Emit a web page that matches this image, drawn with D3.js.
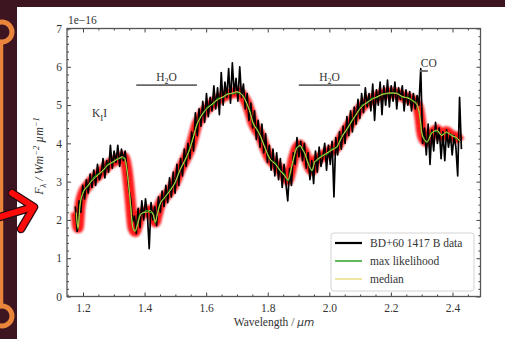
<!DOCTYPE html>
<html>
<head>
<meta charset="utf-8">
<script src="https://cdn.jsdelivr.net/npm/d3@7"></script>
<style>
  html, body { margin: 0; padding: 0; background: #3c1521; }
  svg { display: block; }
  text { font-family: "Liberation Serif", "DejaVu Serif", serif; fill: #333; }
</style>
</head>
<body>
<svg id="chart" width="505" height="339"></svg>
<script>
// observed spectrum [wavelength um, flux 1e-16]
const spectrum = [
  [1.175, 2.35], [1.181, 1.7], [1.187, 2.5], [1.193, 2.2], [1.199, 2.9], [1.205, 2.55], [1.211, 3.05], [1.217, 2.7], [1.223, 3.2], [1.229, 2.85],
  [1.235, 3.3], [1.241, 2.9], [1.247, 3.45], [1.253, 3.05], [1.259, 3.2], [1.265, 3.6], [1.271, 3.1], [1.277, 3.55], [1.283, 3.25], [1.289, 3.95],
  [1.295, 3.35], [1.301, 3.8], [1.307, 3.5], [1.313, 3.95], [1.319, 3.4], [1.325, 3.85], [1.331, 3.55], [1.337, 3.8], [1.343, 3.3], [1.349, 2.8],
  [1.355, 2.55], [1.361, 1.95], [1.367, 2.1], [1.373, 1.65], [1.379, 2.3], [1.385, 1.8], [1.391, 2.5], [1.397, 2.0], [1.403, 2.55], [1.409, 2.15],
  [1.415, 1.25], [1.421, 2.45], [1.427, 2.0], [1.433, 2.35], [1.439, 1.85], [1.445, 2.6], [1.451, 2.2], [1.457, 2.75], [1.463, 2.35], [1.469, 2.9],
  [1.475, 2.45], [1.481, 3.1], [1.487, 2.6], [1.493, 3.25], [1.499, 2.7], [1.505, 3.45], [1.511, 2.9], [1.517, 3.6], [1.523, 3.15], [1.529, 3.85],
  [1.535, 3.4], [1.541, 4.0], [1.547, 3.6], [1.553, 4.3], [1.559, 3.8], [1.565, 4.8], [1.571, 4.2], [1.577, 4.9], [1.583, 4.45], [1.589, 5.1],
  [1.595, 4.55], [1.601, 5.3], [1.607, 4.7], [1.613, 5.2], [1.619, 4.85], [1.625, 5.5], [1.631, 4.9], [1.637, 5.45], [1.643, 4.75], [1.649, 5.85],
  [1.655, 5.0], [1.661, 5.6], [1.667, 5.2], [1.673, 5.95], [1.679, 5.05], [1.685, 6.1], [1.691, 5.3], [1.697, 5.7], [1.703, 5.1], [1.709, 6.0],
  [1.715, 5.2], [1.721, 5.55], [1.727, 4.9], [1.733, 5.3], [1.739, 4.6], [1.745, 5.05], [1.751, 4.4], [1.757, 4.85], [1.763, 4.1], [1.769, 4.6],
  [1.775, 3.9], [1.781, 4.5], [1.787, 3.75], [1.793, 4.25], [1.799, 3.5], [1.805, 3.95], [1.811, 3.3], [1.817, 3.85], [1.823, 3.15], [1.829, 3.75],
  [1.835, 3.05], [1.841, 3.6], [1.847, 2.85], [1.853, 3.45], [1.859, 2.95], [1.865, 2.5], [1.871, 3.35], [1.877, 2.9], [1.883, 3.75], [1.889, 3.45],
  [1.895, 4.15], [1.901, 3.65], [1.907, 4.05], [1.913, 3.55], [1.919, 4.0], [1.925, 3.35], [1.931, 3.75], [1.937, 3.05], [1.943, 3.55], [1.949, 2.95],
  [1.955, 3.8], [1.961, 3.25], [1.967, 3.9], [1.973, 3.4], [1.979, 3.65], [1.985, 4.0], [1.991, 3.3], [1.997, 3.95], [2.003, 3.45], [2.009, 4.05],
  [2.015, 2.6], [2.021, 4.15], [2.027, 3.7], [2.033, 4.3], [2.039, 3.85], [2.045, 4.45], [2.051, 4.0], [2.057, 4.7], [2.063, 4.2], [2.069, 4.85],
  [2.075, 4.3], [2.081, 4.95], [2.087, 4.5], [2.093, 5.15], [2.099, 4.65], [2.105, 5.3], [2.111, 4.8], [2.117, 5.45], [2.123, 4.95], [2.129, 5.3],
  [2.135, 4.85], [2.141, 5.55], [2.147, 4.6], [2.153, 5.4], [2.159, 5.0], [2.165, 5.6], [2.171, 4.75], [2.177, 5.5], [2.183, 5.0], [2.189, 5.65],
  [2.195, 4.95], [2.201, 5.5], [2.207, 5.1], [2.213, 5.6], [2.219, 4.9], [2.225, 5.45], [2.231, 5.15], [2.237, 5.5], [2.243, 4.85], [2.249, 5.4],
  [2.255, 5.0], [2.261, 5.35], [2.267, 4.85], [2.273, 5.3], [2.279, 4.9], [2.285, 5.25], [2.291, 5.0], [2.297, 5.95], [2.303, 4.0], [2.309, 4.4],
  [2.315, 3.7], [2.321, 4.5], [2.327, 3.45], [2.333, 4.35], [2.339, 3.8], [2.345, 4.55], [2.351, 4.0], [2.357, 4.4], [2.363, 3.6], [2.369, 4.3],
  [2.375, 3.55], [2.381, 4.35], [2.387, 3.9], [2.393, 4.25], [2.399, 3.7], [2.405, 4.2], [2.411, 3.9], [2.417, 3.15], [2.423, 5.2], [2.429, 3.85]
];

// model grid and retrieved fluxes
const modelWave = [1.178, 1.184, 1.19, 1.2, 1.216, 1.232, 1.25, 1.265, 1.28, 1.297, 1.312, 1.327,
  1.335, 1.343, 1.353, 1.362, 1.369, 1.378, 1.385, 1.396, 1.408, 1.418, 1.427, 1.435, 1.44, 1.45,
  1.466, 1.482, 1.5, 1.515, 1.53, 1.547, 1.56, 1.57, 1.58, 1.59, 1.605, 1.622, 1.64, 1.655, 1.67,
  1.687, 1.7, 1.71, 1.722, 1.732, 1.742, 1.752, 1.765, 1.775, 1.79, 1.807, 1.825, 1.84, 1.855,
  1.866, 1.874, 1.882, 1.893, 1.905, 1.912, 1.92, 1.932, 1.944, 1.952, 1.96, 1.975, 1.992, 2.008,
  2.025, 2.04, 2.057, 2.075, 2.09, 2.105, 2.122, 2.14, 2.155, 2.175, 2.197, 2.218, 2.239, 2.255,
  2.271, 2.28, 2.288, 2.294, 2.3, 2.308, 2.317, 2.332, 2.35, 2.365, 2.38, 2.397, 2.414, 2.424];

const medianFlux = [2.2, 1.8, 2.35, 2.7, 2.9, 3.05, 3.18, 3.3, 3.42, 3.52, 3.58, 3.65,
  3.62, 3.3, 2.55, 1.8, 1.7, 1.9, 2.1, 2.2, 2.2, 2.25, 2.15, 1.95, 2.1, 2.4,
  2.6, 2.75, 3.0, 3.3, 3.55, 3.85, 4.2, 4.5, 4.65, 4.8, 4.92, 5.05, 5.15, 5.22, 5.28,
  5.32, 5.35, 5.32, 5.2, 5.05, 4.82, 4.55, 4.35, 4.22, 3.9, 3.6, 3.45, 3.3, 3.15,
  3.05, 3.25, 3.55, 3.85, 3.95, 3.85, 3.75, 3.45, 3.3, 3.5, 3.58, 3.65, 3.75, 3.82,
  3.92, 4.15, 4.38, 4.6, 4.8, 4.95, 5.07, 5.15, 5.22, 5.28, 5.32, 5.3, 5.22, 5.18,
  5.12, 5.05, 4.95, 4.7, 4.3, 4.1, 4.05, 4.25, 4.35, 4.2, 4.3, 4.2, 4.15, 4.05];

const maxLikeFlux = [2.15, 1.75, 2.4, 2.72, 2.88, 3.08, 3.2, 3.28, 3.45, 3.5, 3.6, 3.62,
  3.6, 3.28, 2.5, 1.78, 1.72, 1.95, 2.15, 2.18, 2.25, 2.2, 2.18, 1.92, 2.12, 2.42,
  2.58, 2.78, 2.98, 3.32, 3.52, 3.88, 4.22, 4.48, 4.68, 4.78, 4.95, 5.02, 5.18, 5.2, 5.3,
  5.3, 5.33, 5.3, 5.22, 5.02, 4.85, 4.52, 4.38, 4.2, 3.92, 3.58, 3.48, 3.28, 3.18,
  3.02, 3.28, 3.52, 3.88, 3.92, 3.88, 3.72, 3.48, 3.28, 3.52, 3.55, 3.68, 3.72, 3.85,
  3.9, 4.18, 4.35, 4.62, 4.78, 4.98, 5.05, 5.18, 5.2, 5.3, 5.3, 5.32, 5.2, 5.2,
  5.1, 5.08, 4.92, 4.72, 4.28, 4.12, 4.02, 4.28, 4.32, 4.22, 4.28, 4.22, 4.12, 4.08];

const xTicks = [1.2, 1.4, 1.6, 1.8, 2.0, 2.2, 2.4];
const yTicks = [0, 1, 2, 3, 4, 5, 6, 7];
const seriesNames = ["BD+60 1417 B data", "max likelihood", "median"];
const seriesColors = ["#000000", "#1a9c1a", "#e8dc7a"];

const svg = d3.select("#chart");

// page decoration: white panel, orange rail, red arrow
svg.append("rect").attr("x", 17).attr("y", 7).attr("width", 488).attr("height", 332).attr("fill", "#ffffff");
const orange = "#e9853b";
svg.append("line").attr("x1", 1.5).attr("x2", 1.5).attr("y1", 40).attr("y2", 308)
  .attr("stroke", orange).attr("stroke-width", 3.5);
[32, 316].forEach(cy => {
  svg.append("circle").attr("cx", 2).attr("cy", cy).attr("r", 10)
    .attr("fill", "none").attr("stroke", orange).attr("stroke-width", 5);
});
const arrowPath = "M0,217 L33,207 M12,193 L34,207 L21,229";
svg.append("path").attr("d", arrowPath).attr("fill", "none").attr("stroke", "#2a0a10")
  .attr("stroke-width", 8.5).attr("stroke-linecap", "round").attr("stroke-linejoin", "round");
svg.append("path").attr("d", arrowPath).attr("fill", "none").attr("stroke", "#ff0a0a")
  .attr("stroke-width", 6).attr("stroke-linecap", "round").attr("stroke-linejoin", "round");

const plot = { left: 67, right: 480.5, top: 28.5, bottom: 296.5 };
const x = d3.scaleLinear().domain([1.148, 2.491]).range([plot.left, plot.right]);
const y = d3.scaleLinear().domain([0, 7]).range([plot.bottom, plot.top]);

const defs = svg.append("defs");
defs.append("filter").attr("id", "soft").attr("x", "-5%").attr("y", "-20%").attr("width", "110%").attr("height", "140%")
  .append("feGaussianBlur").attr("stdDeviation", 1.1);
defs.append("clipPath").attr("id", "clip").append("rect")
  .attr("x", plot.left).attr("y", plot.top)
  .attr("width", plot.right - plot.left).attr("height", plot.bottom - plot.top);

const g = svg.append("g").attr("clip-path", "url(#clip)");

const specLine = d3.line().x(d => x(d[0])).y(d => y(d[1]));
const modelLine = vals => d3.line()
  .x((d, i) => x(modelWave[i])).y(d => y(d))
  .curve(d3.curveMonotoneX)(vals);

// posterior spread
g.append("path").attr("d", modelLine(medianFlux))
  .attr("fill", "none").attr("stroke", "#ff1010").attr("stroke-opacity", 0.95)
  .attr("stroke-width", 11).attr("stroke-linejoin", "round").attr("filter", "url(#soft)");

g.append("path").attr("d", specLine(spectrum))
  .attr("fill", "none").attr("stroke", "#000").attr("stroke-width", 1.7).attr("stroke-linejoin", "round");

g.append("path").attr("d", modelLine(maxLikeFlux))
  .attr("fill", "none").attr("stroke", seriesColors[1]).attr("stroke-width", 1.3);
g.append("path").attr("d", modelLine(medianFlux))
  .attr("fill", "none").attr("stroke", "#d8cc50").attr("stroke-width", 1);

// axes, ticks pointing inward on all four sides
const minorX = d3.range(1.15, 2.5, 0.05).filter(v => !xTicks.some(t => Math.abs(t - v) < 1e-6));
const minorY = d3.range(0, 7.01, 0.2).filter(v => Math.abs(v - Math.round(v)) > 1e-6);

function styleAxis(sel) {
  sel.select(".domain").remove();
  sel.selectAll("line").attr("stroke", "#444").attr("stroke-width", 1);
  sel.selectAll("text").attr("font-family", "Liberation Serif, serif").attr("font-size", 11.5).attr("fill", "#444");
}

svg.append("g").attr("transform", `translate(0,${plot.bottom})`)
  .call(d3.axisBottom(x).tickValues(xTicks).tickSize(-4).tickPadding(7).tickFormat(d3.format(".1f"))).call(styleAxis);
svg.append("g").attr("transform", `translate(0,${plot.bottom})`)
  .call(d3.axisBottom(x).tickValues(minorX).tickSize(-2).tickFormat("")).call(styleAxis);
svg.append("g").attr("transform", `translate(0,${plot.top})`)
  .call(d3.axisTop(x).tickValues(xTicks).tickSize(-4).tickFormat("")).call(styleAxis);
svg.append("g").attr("transform", `translate(0,${plot.top})`)
  .call(d3.axisTop(x).tickValues(minorX).tickSize(-2).tickFormat("")).call(styleAxis);

svg.append("g").attr("transform", `translate(${plot.left},0)`)
  .call(d3.axisLeft(y).tickValues(yTicks).tickSize(-4).tickPadding(5).tickFormat(d3.format("d"))).call(styleAxis);
svg.append("g").attr("transform", `translate(${plot.left},0)`)
  .call(d3.axisLeft(y).tickValues(minorY).tickSize(-2).tickFormat("")).call(styleAxis);
svg.append("g").attr("transform", `translate(${plot.right},0)`)
  .call(d3.axisRight(y).tickValues(yTicks).tickSize(-4).tickFormat("")).call(styleAxis);
svg.append("g").attr("transform", `translate(${plot.right},0)`)
  .call(d3.axisRight(y).tickValues(minorY).tickSize(-2).tickFormat("")).call(styleAxis);

svg.append("rect").attr("x", plot.left).attr("y", plot.top)
  .attr("width", plot.right - plot.left).attr("height", plot.bottom - plot.top)
  .attr("fill", "none").attr("stroke", "#555").attr("stroke-width", 1.3);

// offset label and axis titles
svg.append("text").attr("x", plot.left + 1).attr("y", 24).attr("font-size", 11.5).text("1e\u221216");

const xt = svg.append("text").attr("x", 274).attr("y", 326).attr("text-anchor", "middle").attr("font-size", 11.5);
xt.append("tspan").text("Wavelength / ");
xt.append("tspan").attr("font-style", "italic").attr("font-family", "DejaVu Sans, sans-serif").attr("font-size", 10.5).text("\u00b5m");

const yt = svg.append("text").attr("transform", "translate(43,156) rotate(-90)")
  .attr("text-anchor", "middle").attr("font-family", "DejaVu Sans, sans-serif")
  .attr("font-style", "italic").attr("font-size", 12);
yt.append("tspan").text("F");
yt.append("tspan").attr("font-size", 8.5).attr("dy", 3).text("\u03bb");
yt.append("tspan").attr("dy", -3).text(" / Wm");
yt.append("tspan").attr("font-size", 8.5).attr("dy", -4).text("\u22122");
yt.append("tspan").attr("dy", 4).text(" \u00b5m");
yt.append("tspan").attr("font-size", 8.5).attr("dy", -4).text("\u22121");

// feature annotations
const features = [
  { name: "H", sub: "2", tail: "O", from: 1.373, to: 1.57, level: 5.52, gap: 4 },
  { name: "H", sub: "2", tail: "O", from: 1.901, to: 2.1, level: 5.52, gap: 4 },
  { name: "CO", sub: "", tail: "", from: 2.294, to: 2.32, level: 5.89, gap: 4 }
];
features.forEach(f => {
  svg.append("line").attr("x1", x(f.from)).attr("x2", x(f.to)).attr("y1", y(f.level)).attr("y2", y(f.level))
    .attr("stroke", "#666").attr("stroke-width", 1.8);
  const t = svg.append("text").attr("x", (x(f.from) + x(f.to)) / 2 + (f.sub ? 0 : 5)).attr("y", y(f.level) - f.gap)
    .attr("text-anchor", "middle").attr("font-size", 11.5);
  t.append("tspan").text(f.name);
  if (f.sub) {
    t.append("tspan").attr("font-size", 8).attr("dy", 3).text(f.sub);
    t.append("tspan").attr("dy", -3).text(f.tail);
  }
});
const kt = svg.append("text").attr("x", 92).attr("y", 117).attr("font-size", 11.5);
kt.append("tspan").text("K");
kt.append("tspan").attr("font-size", 9).attr("dy", 4).text("I");
kt.append("tspan").attr("dy", -4).text("I");

// legend
const lg = svg.append("g").attr("transform", "translate(331,233)");
lg.append("rect").attr("width", 143).attr("height", 58).attr("rx", 3)
  .attr("fill", "#fff").attr("fill-opacity", 0.9).attr("stroke", "#d4d4d4");
seriesNames.forEach((name, i) => {
  const yy = 10 + i * 18;
  lg.append("line").attr("x1", 4).attr("x2", 31).attr("y1", yy).attr("y2", yy)
    .attr("stroke", seriesColors[i]).attr("stroke-width", i === 0 ? 2.2 : 1.4);
  lg.append("text").attr("x", 39).attr("y", yy + 4).attr("font-size", 11.5).text(name);
});
</script>
</body>
</html>
